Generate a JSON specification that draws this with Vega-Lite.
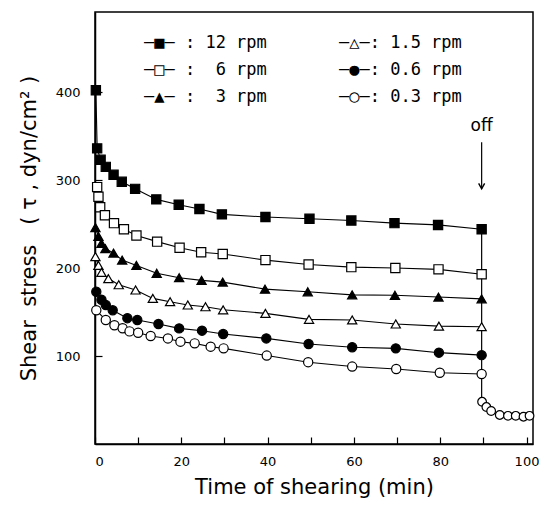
{
  "$schema": "https://vega.github.io/schema/vega-lite/v6.json",
  "width": 438,
  "height": 432,
  "autosize": {"type": "none"},
  "padding": {"left": 95, "top": 12, "right": 11, "bottom": 64},
  "background": "white",
  "config": {
    "view": {"stroke": "black", "strokeWidth": 1.5},
    "axis": {
      "domainColor": "black", "domainWidth": 1.5,
      "tickColor": "black", "tickWidth": 1.2,
      "grid": false,
      "labelFont": "DejaVu Sans", "labelFontSize": 13, "labelColor": "black",
      "titleFont": "DejaVu Sans", "titleFontSize": 21, "titleFontWeight": "normal", "titleColor": "black"
    }
  },
  "datasets": {
    "main": [
      {"series": "12", "t": 0.2, "s": 402}, {"series": "12", "t": 0.5, "s": 336}, {"series": "12", "t": 1.3, "s": 323},
      {"series": "12", "t": 2.5, "s": 315}, {"series": "12", "t": 4.3, "s": 306}, {"series": "12", "t": 6.2, "s": 298},
      {"series": "12", "t": 9.3, "s": 290}, {"series": "12", "t": 14.2, "s": 278}, {"series": "12", "t": 19.4, "s": 272},
      {"series": "12", "t": 24.2, "s": 267}, {"series": "12", "t": 29.4, "s": 261}, {"series": "12", "t": 39.5, "s": 258},
      {"series": "12", "t": 49.7, "s": 256}, {"series": "12", "t": 59.4, "s": 254}, {"series": "12", "t": 69.4, "s": 251},
      {"series": "12", "t": 79.5, "s": 249}, {"series": "12", "t": 89.6, "s": 244},

      {"series": "6", "t": 0.5, "s": 292}, {"series": "6", "t": 0.8, "s": 281}, {"series": "6", "t": 1.2, "s": 269},
      {"series": "6", "t": 2.3, "s": 260}, {"series": "6", "t": 4.4, "s": 251}, {"series": "6", "t": 6.7, "s": 244},
      {"series": "6", "t": 9.6, "s": 237}, {"series": "6", "t": 14.4, "s": 230}, {"series": "6", "t": 19.6, "s": 223},
      {"series": "6", "t": 24.6, "s": 218}, {"series": "6", "t": 29.6, "s": 216}, {"series": "6", "t": 39.5, "s": 209},
      {"series": "6", "t": 49.5, "s": 204}, {"series": "6", "t": 59.4, "s": 201}, {"series": "6", "t": 69.6, "s": 200},
      {"series": "6", "t": 79.6, "s": 198.5}, {"series": "6", "t": 89.6, "s": 193},

      {"series": "3", "t": 0.1, "s": 246}, {"series": "3", "t": 0.8, "s": 236}, {"series": "3", "t": 1.5, "s": 228},
      {"series": "3", "t": 2.4, "s": 222}, {"series": "3", "t": 4.3, "s": 217}, {"series": "3", "t": 6.3, "s": 209},
      {"series": "3", "t": 9.6, "s": 203}, {"series": "3", "t": 14.3, "s": 194}, {"series": "3", "t": 19.5, "s": 189},
      {"series": "3", "t": 24.7, "s": 186}, {"series": "3", "t": 29.6, "s": 184}, {"series": "3", "t": 39.4, "s": 176},
      {"series": "3", "t": 49.3, "s": 173}, {"series": "3", "t": 59.6, "s": 169.5}, {"series": "3", "t": 69.5, "s": 169},
      {"series": "3", "t": 79.6, "s": 167}, {"series": "3", "t": 89.6, "s": 165},

      {"series": "1.5", "t": 0.1, "s": 213}, {"series": "1.5", "t": 0.8, "s": 203}, {"series": "1.5", "t": 1.5, "s": 195},
      {"series": "1.5", "t": 3.1, "s": 188}, {"series": "1.5", "t": 5.5, "s": 181}, {"series": "1.5", "t": 9.4, "s": 175},
      {"series": "1.5", "t": 13.4, "s": 165.5}, {"series": "1.5", "t": 17.4, "s": 161.7}, {"series": "1.5", "t": 21.5, "s": 158},
      {"series": "1.5", "t": 25.6, "s": 156}, {"series": "1.5", "t": 29.7, "s": 152.5}, {"series": "1.5", "t": 39.5, "s": 148.5},
      {"series": "1.5", "t": 49.6, "s": 141.7}, {"series": "1.5", "t": 59.6, "s": 141}, {"series": "1.5", "t": 69.7, "s": 136.4},
      {"series": "1.5", "t": 79.7, "s": 134}, {"series": "1.5", "t": 89.6, "s": 133.3},

      {"series": "0.6", "t": 0.3, "s": 173}, {"series": "0.6", "t": 1.5, "s": 164}, {"series": "0.6", "t": 2.5, "s": 158},
      {"series": "0.6", "t": 4.1, "s": 152}, {"series": "0.6", "t": 7.5, "s": 143}, {"series": "0.6", "t": 9.8, "s": 141},
      {"series": "0.6", "t": 14.7, "s": 136.4}, {"series": "0.6", "t": 19.5, "s": 131.4}, {"series": "0.6", "t": 24.8, "s": 128.8},
      {"series": "0.6", "t": 29.7, "s": 125}, {"series": "0.6", "t": 39.7, "s": 120}, {"series": "0.6", "t": 49.5, "s": 113.6},
      {"series": "0.6", "t": 59.6, "s": 110}, {"series": "0.6", "t": 69.7, "s": 108.7}, {"series": "0.6", "t": 79.7, "s": 103.8},
      {"series": "0.6", "t": 89.6, "s": 101},

      {"series": "0.3", "t": 0.3, "s": 152}, {"series": "0.3", "t": 2.5, "s": 141}, {"series": "0.3", "t": 4.5, "s": 135},
      {"series": "0.3", "t": 6.4, "s": 131.5}, {"series": "0.3", "t": 8, "s": 128}, {"series": "0.3", "t": 10, "s": 126.5},
      {"series": "0.3", "t": 12.9, "s": 122.7}, {"series": "0.3", "t": 16.9, "s": 120}, {"series": "0.3", "t": 19.8, "s": 116.3},
      {"series": "0.3", "t": 23.1, "s": 114.4}, {"series": "0.3", "t": 26.8, "s": 110.6}, {"series": "0.3", "t": 29.8, "s": 108.7},
      {"series": "0.3", "t": 39.8, "s": 100.5}, {"series": "0.3", "t": 49.4, "s": 93}, {"series": "0.3", "t": 59.6, "s": 88},
      {"series": "0.3", "t": 69.8, "s": 85.2}, {"series": "0.3", "t": 79.9, "s": 81}, {"series": "0.3", "t": 89.6, "s": 79.5}
    ],
    "recovery": [
      {"t": 89.7, "s": 48}, {"t": 90.7, "s": 42}, {"t": 91.8, "s": 37.5}, {"t": 93.8, "s": 33},
      {"t": 95.7, "s": 32}, {"t": 97.5, "s": 32}, {"t": 99.3, "s": 31}, {"t": 100.7, "s": 32}
    ],
    "drop": [{"t": 89.6, "top": 244, "bottom": 48}],
    "note": [{"t": 89.6, "label": "off", "textY": 361, "arrowTop": 343, "arrowTip": 290}]
  },
  "layer": [
    {
      "data": {"name": "drop"},
      "mark": {"type": "rule", "color": "black", "strokeWidth": 1.2},
      "encoding": {
        "x": {"field": "t", "type": "quantitative", "scale": {"domain": [0, 101.5], "nice": false}},
        "y": {"field": "top", "type": "quantitative", "scale": {"domain": [0, 491], "nice": false}},
        "y2": {"field": "bottom"}
      }
    },
    {
      "data": {"name": "main"},
      "mark": {"type": "line", "color": "black", "strokeWidth": 1.1},
      "encoding": {
        "x": {"field": "t", "type": "quantitative"},
        "y": {"field": "s", "type": "quantitative"},
        "detail": {"field": "series"},
        "order": {"field": "t"}
      }
    },
    {
      "data": {"name": "main"},
      "mark": {"type": "point", "stroke": "black", "strokeWidth": 1.2, "opacity": 1, "size": 85},
      "encoding": {
        "x": {"field": "t", "type": "quantitative"},
        "y": {"field": "s", "type": "quantitative"},
        "shape": {
          "field": "series", "type": "nominal",
          "scale": {"domain": ["12", "6", "3", "1.5", "0.6", "0.3"], "range": ["square", "square", "triangle-up", "triangle-up", "circle", "circle"]},
          "legend": {
            "orient": "none", "legendX": 32, "legendY": 22, "columns": 2, "title": null,
            "symbolOpacity": 0, "symbolSize": 0, "symbolStrokeWidth": 0, "labelOffset": 0,
            "labelFont": "DejaVu Sans Mono", "labelFontSize": 17, "labelColor": "black",
            "labelLimit": 400, "columnPadding": 55, "rowPadding": 9,
            "labelExpr": "{'12':'—■— : 12 rpm','6':'—□— :\u00a0 6 rpm','3':'—▲— :\u00a0 3 rpm','1.5':'—△—: 1.5 rpm','0.6':'—●—: 0.6 rpm','0.3':'—○—: 0.3 rpm'}[datum.label]"
          }
        },
        "fill": {
          "field": "series", "type": "nominal",
          "scale": {"domain": ["12", "6", "3", "1.5", "0.6", "0.3"], "range": ["black", "white", "black", "white", "black", "white"]},
          "legend": null
        }
      }
    },
    {
      "data": {"name": "recovery"},
      "mark": {"type": "line", "color": "black", "strokeWidth": 1.1},
      "encoding": {
        "x": {"field": "t", "type": "quantitative"},
        "y": {"field": "s", "type": "quantitative"},
        "order": {"field": "t"}
      }
    },
    {
      "data": {"name": "recovery"},
      "mark": {"type": "point", "shape": "circle", "stroke": "black", "fill": "white", "strokeWidth": 1.2, "opacity": 1, "size": 75},
      "encoding": {
        "x": {"field": "t", "type": "quantitative"},
        "y": {"field": "s", "type": "quantitative"}
      }
    },
    {
      "data": {"name": "note"},
      "mark": {"type": "text", "font": "DejaVu Sans", "fontSize": 17, "color": "black", "baseline": "middle"},
      "encoding": {
        "x": {"field": "t", "type": "quantitative"},
        "y": {"field": "textY", "type": "quantitative"},
        "text": {"field": "label"}
      }
    },
    {
      "data": {"name": "note"},
      "mark": {"type": "rule", "color": "black", "strokeWidth": 1.2},
      "encoding": {
        "x": {"field": "t", "type": "quantitative"},
        "y": {"field": "arrowTop", "type": "quantitative"},
        "y2": {"field": "arrowTip"}
      }
    },
    {
      "data": {"name": "note"},
      "mark": {"type": "point", "shape": "M-0.6,-1.1L0,0L0.6,-1.1", "filled": false, "stroke": "black", "strokeWidth": 1.4, "opacity": 1, "size": 100},
      "encoding": {
        "x": {"field": "t", "type": "quantitative",
          "axis": {"title": "Time of shearing (min)", "values": [0, 10, 20, 30, 40, 50, 60, 70, 80, 90, 100],
                   "labelExpr": "datum.value % 20 == 0 ? datum.label : ''", "tickSize": -7, "labelPadding": 18, "titlePadding": 8}},
        "y": {"field": "arrowTip", "type": "quantitative",
          "axis": {"title": "Shear\u00a0 stress\u00a0\u00a0 (\u00a0τ\u00a0,\u00a0dyn/cm²\u00a0)", "values": [100, 200, 300, 400], "tickSize": -7, "labelPadding": 22, "titlePadding": 16}}
      }
    }
  ]
}
